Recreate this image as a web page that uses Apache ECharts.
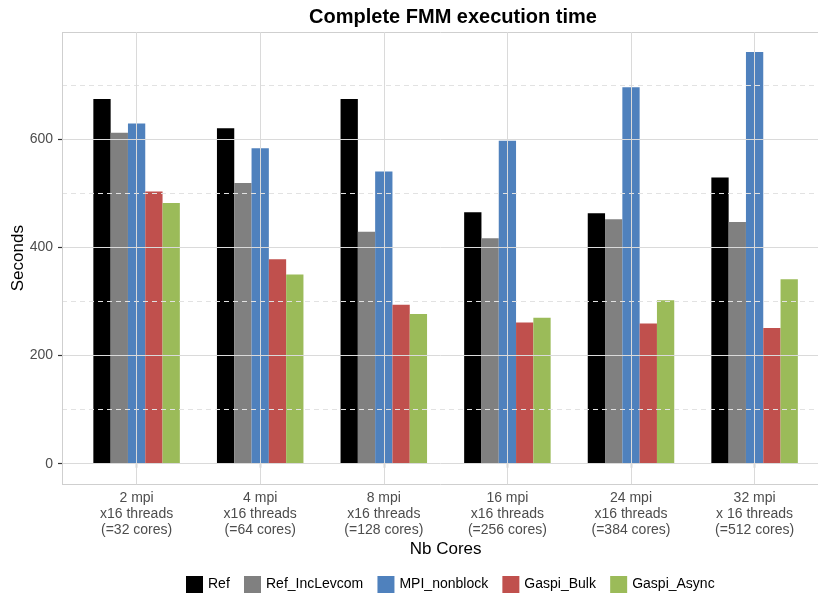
<!DOCTYPE html>
<html>
<head>
<meta charset="utf-8">
<script src="https://cdn.jsdelivr.net/npm/echarts@6/dist/echarts.min.js"></script>
<style>html,body{margin:0;padding:0;background:#fff}#c{width:818px;height:603px}</style>
</head>
<body>
<div id="c"></div>
<script>
const categories = [
  '2 mpi\nx16 threads\n(=32 cores)',
  '4 mpi\nx16 threads\n(=64 cores)',
  '8 mpi\nx16 threads\n(=128 cores)',
  '16 mpi\nx16 threads\n(=256 cores)',
  '24 mpi\nx16 threads\n(=384 cores)',
  '32 mpi\nx 16 threads\n(=512 cores)'
];
const seriesNames = ['Ref', 'Ref_IncLevcom', 'MPI_nonblock', 'Gaspi_Bulk', 'Gaspi_Async'];
const refValues = [674, 620, 674, 465, 463, 529];
const refIncLevcomValues = [612, 519, 429, 417, 452, 447];
const mpiNonblockValues = [629, 583, 540, 597, 696, 761];
const gaspiBulkValues = [503, 378, 294, 261, 259, 251];
const gaspiAsyncValues = [482, 350, 277, 270, 302, 341];
const yMajorTicks = [0, 200, 400, 600];
const yMinorTicks = [100, 300, 500, 700];
const colors = ['#000000', '#808080', '#4f81bd', '#c0504d', '#9bbb59'];
const FONT = "'Liberation Sans', Arial, sans-serif";

const allValues = [refValues, refIncLevcomValues, mpiNonblockValues, gaspiBulkValues, gaspiAsyncValues];
const Y_MIN = -38, Y_MAX = 798;
const FRAME_W = 767;

const barSeries = allValues.map((vals, i) => ({
  name: seriesNames[i],
  type: 'bar',
  xAxisIndex: 0,
  yAxisIndex: 0,
  data: vals,
  barWidth: 17.3,
  barGap: '0%',
  z: 3,
  itemStyle: { color: colors[i] }
}));

const borderStyle = { color: '#cfcfcf', width: 1, type: 'solid' };
const hLines = yMajorTicks.map(v => ({ yAxis: v, lineStyle: { color: '#dadada', width: 1, type: 'solid' } }))
  .concat(yMinorTicks.map(v => ({ yAxis: v, lineStyle: { color: '#e2e2e2', width: 1, type: [5, 4] } })))
  .concat([{ yAxis: Y_MIN, lineStyle: borderStyle }, { yAxis: Y_MAX, lineStyle: borderStyle }, { xAxis: 0, lineStyle: borderStyle }]);
const vLines = categories.map(c => ({ xAxis: c, lineStyle: { color: '#dadada', width: 1, type: 'solid' } }));

const chart = echarts.init(document.getElementById('c'), null, { renderer: 'canvas' });
chart.setOption({
  animation: false,
  backgroundColor: '#ffffff',
  title: {
    text: 'Complete FMM execution time',
    left: 448,
    textAlign: 'center',
    top: 2,
    textStyle: { fontFamily: FONT, fontWeight: 'bold', fontSize: 20, color: '#000' }
  },
  legend: {
    data: seriesNames,
    left: 186,
    top: 576,
    padding: 0,
    itemWidth: 17,
    itemHeight: 17,
    itemGap: 14.2,
    icon: 'rect',
    textStyle: { fontFamily: FONT, fontSize: 14, color: '#000' }
  },
  grid: [
    { left: 74.8, top: 32, width: 741.6, height: 452.3, show: false, outerBoundsMode: 'none', containLabel: false },
    { left: 62, top: 32, width: FRAME_W, height: 452.3, show: false, outerBoundsMode: 'none', containLabel: false }
  ],
  xAxis: [
    {
      type: 'category', gridIndex: 0, data: categories,
      axisLine: { show: false },
      axisTick: { show: true, alignWithLabel: true, length: 4, lineStyle: { color: '#333', width: 1.2 } },
      splitLine: { show: false },
      axisLabel: { interval: 0, margin: 6, fontFamily: FONT, fontSize: 14, lineHeight: 16, color: '#4d4d4d' },
      name: 'Nb Cores', nameLocation: 'middle', nameGap: 57, nameMoveOverlap: false,
      nameTextStyle: { fontFamily: FONT, fontSize: 17, color: '#000' }
    },
    {
      type: 'value', gridIndex: 1, min: 0, max: 1, show: false
    }
  ],
  yAxis: [
    { type: 'value', gridIndex: 0, min: Y_MIN, max: Y_MAX, show: false, splitLine: { show: false } },
    {
      type: 'value', gridIndex: 1, min: Y_MIN, max: Y_MAX,
      axisLine: { show: false },
      axisTick: { show: true, length: 4, customValues: yMajorTicks, lineStyle: { color: '#333', width: 1.2 } },
      axisLabel: { customValues: yMajorTicks, margin: 9, fontFamily: FONT, fontSize: 14, color: '#4d4d4d' },
      splitLine: { show: false },
      name: 'Seconds', nameLocation: 'middle', nameGap: 35, nameMoveOverlap: false,
      nameTextStyle: { fontFamily: FONT, fontSize: 17, color: '#000' }
    }
  ],
  series: [
    {
      type: 'line', xAxisIndex: 1, yAxisIndex: 1, data: [], z: 1, silent: true,
      markLine: { silent: true, symbol: ['none', 'none'], label: { show: false }, data: hLines, animation: false }
    },
    {
      type: 'line', xAxisIndex: 0, yAxisIndex: 0, data: [], z: 1, silent: true,
      markLine: { silent: true, symbol: ['none', 'none'], label: { show: false }, data: vLines, animation: false }
    }
  ].concat(barSeries)
});
</script>
</body>
</html>
